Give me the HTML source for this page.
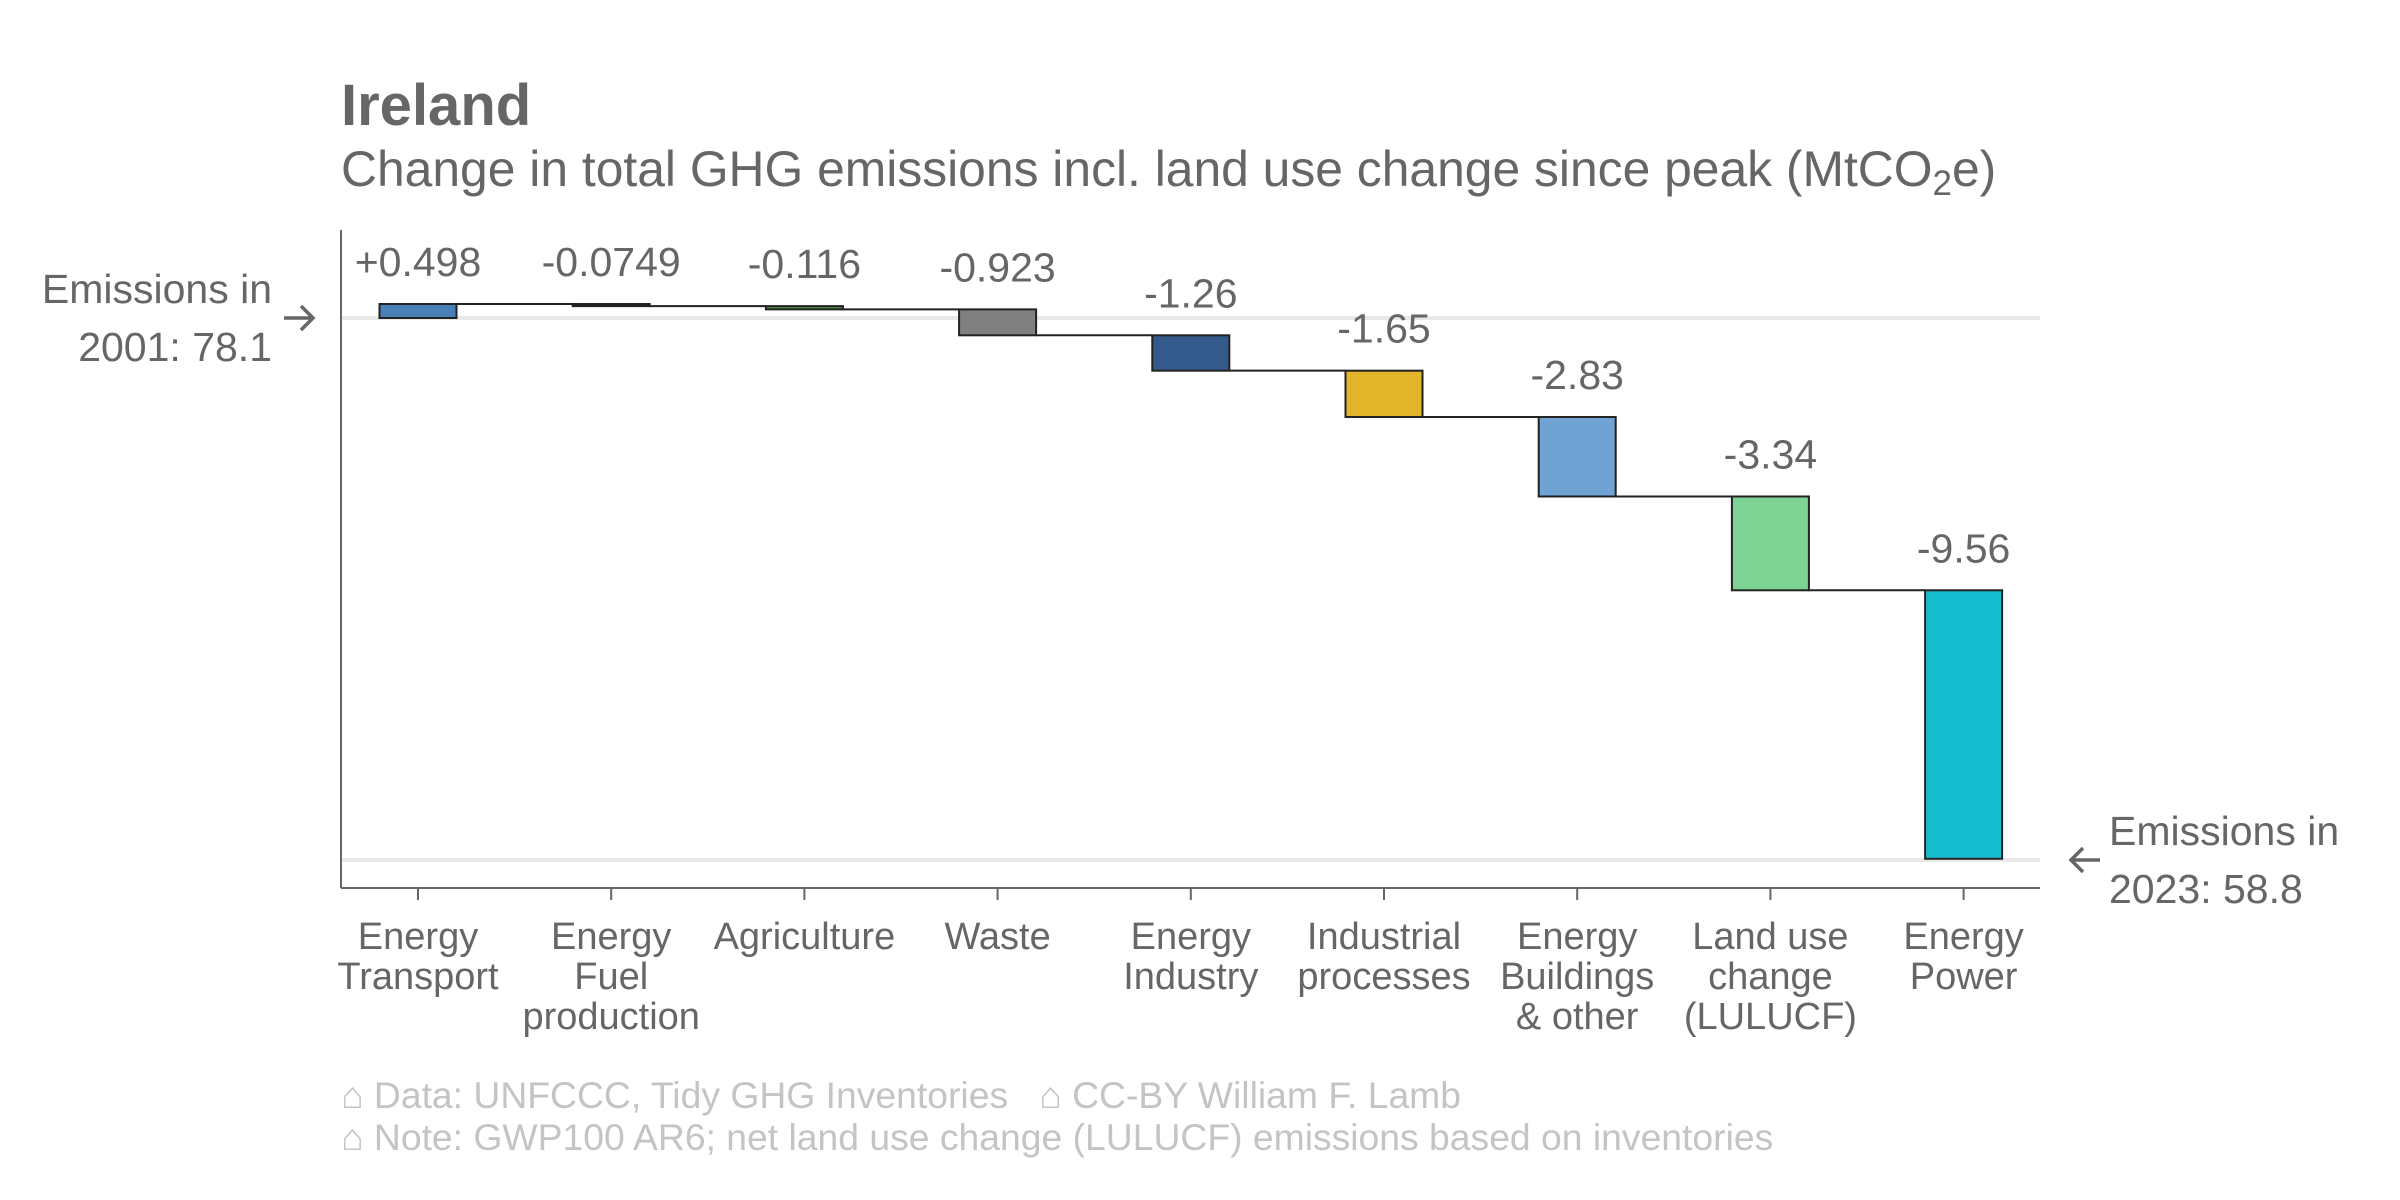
<!DOCTYPE html>
<html><head><meta charset="utf-8"><style>
html,body{margin:0;padding:0;background:#fff;}
svg{display:block;font-family:"Liberation Sans",Arial,sans-serif;}
</style></head><body>
<svg id="chart" width="2400" height="1200" viewBox="0 0 2400 1200" xmlns="http://www.w3.org/2000/svg">
<text x="341" y="125" font-size="58" font-weight="bold" fill="#666">Ireland</text>
<text x="341" y="186" font-size="49.8" fill="#666">Change in total GHG emissions incl. land use change since peak (MtCO<tspan font-size="35" dy="9">2</tspan><tspan dy="-9">e)</tspan></text>
<g id="grid"></g>
<g id="marks"></g>
<line x1="341" y1="230" x2="341" y2="888" stroke="#666" stroke-width="2"/>
<line x1="341" y1="888" x2="2040" y2="888" stroke="#666" stroke-width="2"/>
<g id="xaxis"></g>
<g>
<text x="272" y="303" font-size="41" fill="#666" text-anchor="end">Emissions in</text>
<text x="272" y="361" font-size="41" fill="#666" text-anchor="end">2001: 78.1</text>
<path d="M284 318 H313 M301 306 L313 318 L301 330" stroke="#666" stroke-width="3.5" fill="none"/>
</g>
<g>
<text x="2109" y="845" font-size="41" fill="#666">Emissions in</text>
<text x="2109" y="903" font-size="41" fill="#666">2023: 58.8</text>
<path d="M2100 860 H2071 M2083 848 L2071 860 L2083 872" stroke="#666" stroke-width="3.5" fill="none"/>
</g>
<g>
<text x="341" y="1108" font-size="37.3" fill="#c4c4c4" xml:space="preserve">⌂ Data: UNFCCC, Tidy GHG Inventories   ⌂ CC-BY William F. Lamb</text>
<text x="341" y="1150" font-size="37.3" fill="#c4c4c4">⌂ Note: GWP100 AR6; net land use change (LULUCF) emissions based on inventories</text>
</g>
</svg>
<script>
const categories = [["Energy","Transport"],["Energy","Fuel","production"],["Agriculture"],["Waste"],["Energy","Industry"],["Industrial","processes"],["Energy","Buildings","& other"],["Land use","change","(LULUCF)"],["Energy","Power"]];
const deltas = [0.498,-0.0749,-0.116,-0.923,-1.26,-1.65,-2.83,-3.34,-9.56];
const valueLabels = ["+0.498","-0.0749","-0.116","-0.923","-1.26","-1.65","-2.83","-3.34","-9.56"];
const colors = ["#4a7fb5","#2b2b2b","#4f8f4f","#808080","#345a8c","#e3b52a","#6fa3d3","#7dd394","#17becf"];
const startValue = 78.1;
const endValue = 58.8;

const NS="http://www.w3.org/2000/svg";
const y = v => 318 + (startValue - v) * (860-318)/(startValue-endValue);
const x = i => 418 + i*193.2;
const bw = 77;
function mk(tag, attrs, parent){const e=document.createElementNS(NS,tag);for(const k in attrs)e.setAttribute(k,attrs[k]);parent.appendChild(e);return e;}
const grid=document.getElementById('grid'), marks=document.getElementById('marks'), xa=document.getElementById('xaxis');
[startValue,endValue].forEach(v=>{
  const l=mk('line',{x1:341,x2:2040,y1:y(v),y2:y(v),stroke:'#e8e8e8','stroke-width':4},grid);
  
  
});
let cum=startValue;
deltas.forEach((d,i)=>{
  const a=cum, b=cum+d;
  const top=y(Math.max(a,b)), bot=y(Math.min(a,b));
  const r=mk('rect',{x:x(i)-bw/2,y:top,width:bw,height:Math.max(bot-top,2),fill:colors[i],stroke:'#222','stroke-width':2},marks);
  
  
  if(i<deltas.length-1){
    const c=mk('line',{x1:x(i)+bw/2,x2:x(i+1)-bw/2,y1:y(b),y2:y(b),stroke:'#222','stroke-width':2},marks);
    
    
  }
  const t=mk('text',{x:x(i),y:top-28,'font-size':41,fill:'#666','text-anchor':'middle'},marks);
  t.textContent=valueLabels[i];
  
  
  const tk=mk('line',{x1:x(i),x2:x(i),y1:888,y2:900,stroke:'#666','stroke-width':2},xa);
  
  
  categories[i].forEach((ln,j)=>{
    const tl=mk('text',{x:x(i),y:949+j*40,'font-size':38,fill:'#666','text-anchor':'middle'},xa);
    tl.textContent=ln;
    
    
  });
  cum=b;
});
</script>
</body></html>
